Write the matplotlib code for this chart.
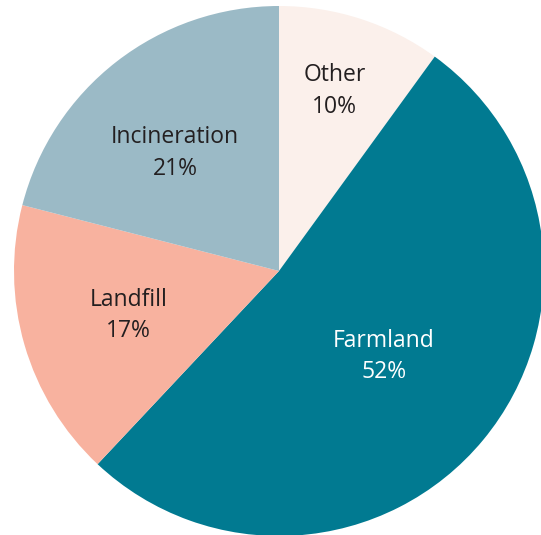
import numpy as np
import matplotlib
matplotlib.use("Agg")
import matplotlib.pyplot as plt
import matplotlib.transforms as mtransforms

# Data, clockwise from 12 o'clock
labels = ["Other", "Farmland", "Landfill", "Incineration"]
shares = [10, 52, 17, 21]
colors = ["#fbf0eb", "#017a91", "#f8b29f", "#9bbac6"]
text_colors = ["#231f20", "#ffffff", "#231f20", "#231f20"]
# label placement: radial distance and small angle nudge (deg)
label_dist = [0.72, 0.505, 0.59, 0.60]
label_nudge = [1.0, 1.3, -0.6, 3.0]

W, H = 541, 535
R = 265.0          # pie radius in px
cx, cy = 279, 271  # pie centre in px (from top-left)

fig = plt.figure(figsize=(W / 100, H / 100), dpi=100)
ax = fig.add_axes([0, 0, 1, 1])

wedges, _ = ax.pie(shares, colors=colors, startangle=90, counterclock=False,
                   radius=1, wedgeprops=dict(linewidth=0))

# text sits a touch low in the original
shift = mtransforms.ScaledTranslation(0, -2.5 / 100, fig.dpi_scale_trans)

for w, lab, val, tc, d, nd in zip(wedges, labels, shares, text_colors,
                                  label_dist, label_nudge):
    ang = np.deg2rad((w.theta1 + w.theta2) / 2 + nd)
    ax.text(d * np.cos(ang), d * np.sin(ang), f"{lab}\n{val}%",
            ha="center", va="center", fontsize=16.5, color=tc,
            family="Open Sans", linespacing=1.42,
            transform=ax.transData + shift)

ax.set_aspect("auto")
ax.set_xlim(-cx / R, (W - cx) / R)
ax.set_ylim(-(H - cy) / R, cy / R)
ax.axis("off")

fig.savefig("out.png", dpi=100)
